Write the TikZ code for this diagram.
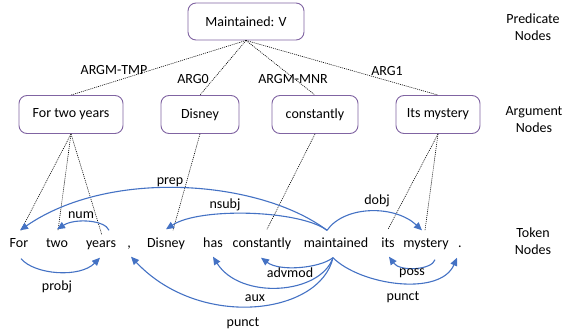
\documentclass[tikz,border=0pt]{standalone}
\usepackage{fontspec}
\setmainfont{Carlito}
\usetikzlibrary{arrows.meta}
\definecolor{depblue}{HTML}{4472C4}
\definecolor{boxpurple}{HTML}{8064A2}
\begin{document}
\begin{tikzpicture}[x=1pt,y=-1pt,font=\fontsize{14}{17}\selectfont,
  argbox/.style={draw=boxpurple,line width=0.9pt,rounded corners=8pt,inner sep=0pt,minimum height=38pt},
  tok/.style={inner xsep=1pt,inner ysep=7pt,text height=10pt,text depth=3pt},
  dep/.style={draw=depblue,line width=1.1pt,-{Triangle[length=8pt,width=7pt]}},
  dotl/.style={line width=0.6pt,dash pattern=on 1pt off 1pt},
  lab/.style={inner sep=1pt},
  side/.style={align=center,inner sep=0pt}]
\useasboundingbox (0,0) rectangle (571,334);

% predicate and arguments
\node[argbox,minimum width=116pt,minimum height=37pt] (pred) at (246,21.5) {Maintained: V};
\node[argbox,minimum width=104pt] (a1) at (71,114.5) {For two years};
\node[argbox,minimum width=78pt] (a2) at (200,114.5) {Disney};
\node[argbox,minimum width=86pt] (a3) at (315,114.5) {constantly};
\node[argbox,minimum width=84pt] (a4) at (438,114.5) {Its mystery};

% side labels
\node[side] (sp) at (533,27) {Predicate\\Nodes};
\node[side] (sa) at (534,120) {Argument\\Nodes};
\node[side] (st) at (533,241) {Token\\Nodes};

% tokens
\node[tok] (for) at (19,244) {For};
\node[tok] (tw) at (57,244) {two};
\node[tok] (yr) at (101,244) {years};
\node[tok] (cm) at (129,244) {,};
\node[tok] (ds) at (166,244) {Disney};
\node[tok] (hs) at (213,244) {has};
\node[tok] (cn) at (262,244) {constantly};
\node[tok] (mt) at (336,244) {maintained};
\node[tok] (its) at (388,244) {its};
\node[tok] (my) at (426,244) {mystery};
\node[tok] (pd) at (460,244) {.};

% SRL edges
\draw[dotl] (pred.south) -- (a1.north);
\draw[dotl] (pred.south) -- (a2.north);
\draw[dotl] (pred.south) -- (a3.north);
\draw[dotl] (pred.south) -- (a4.north);
\node[lab] (l1) at (114,70) {ARGM-TMP};
\node[lab] (l2) at (193,79) {ARG0};
\node[lab] (l3) at (293,79) {ARGM-MNR};
\node[lab] (l4) at (387,71) {ARG1};

% argument to tokens
\draw[dotl] (a1.south) -- ([xshift=2pt]for.north);
\draw[dotl] (a1.south) -- ([xshift=1pt]tw.north);
\draw[dotl] (a1.south) -- ([xshift=1pt,yshift=-5pt]yr.north);
\draw[dotl] (a2.south) -- ([xshift=7pt]ds.north);
\draw[dotl] (a3.south) -- ([xshift=5pt,yshift=1pt]cn.north);
\draw[dotl] (a4.south) -- ([yshift=1pt]its.north);
\draw[dotl] (a4.south) -- ([xshift=-1pt]my.north);

% dependency arcs above
\draw[dep] ([xshift=-9pt]mt.north) .. controls (260,180) and (110,168) .. ([xshift=1pt]for.north);
\draw[dep] ([xshift=-9pt]mt.north) .. controls (300,210) and (200,207) .. ([yshift=1pt]ds.north);
\draw[dep] ([xshift=8pt]yr.north) .. controls (105,220) and (75,218) .. ([yshift=1pt]tw.north);
\draw[dep] ([xshift=-9pt]mt.north) .. controls (345,205) and (395,205) .. ([xshift=-4pt]my.north);
\node[lab] (lprep) at (170,182) {prep};
\node[lab] (lnsubj) at (225,205) {nsubj};
\node[lab] (lnum) at (81,215) {num};
\node[lab] (ldobj) at (377,201) {dobj};

% dependency arcs below
\draw[dep] ([xshift=2pt,yshift=-1pt]for.south) .. controls (35,275) and (80,278) .. ([xshift=-1pt]yr.south);
\draw[dep] ([xshift=-3pt]mt.south) .. controls (320,268) and (280,272) .. ([xshift=-1pt]cn.south);
\draw[dep] ([xshift=-3pt]mt.south) .. controls (320,295) and (240,300) .. ([yshift=1pt]hs.south);
\draw[dep] ([xshift=-3pt]mt.south) .. controls (320,315) and (200,330) .. ([xshift=2pt,yshift=1pt]cm.south);
\draw[dep] ([xshift=9pt,yshift=-2pt]my.south) .. controls (432,270) and (400,272) .. ([xshift=1pt,yshift=1pt]its.south);
\draw[dep] ([xshift=-3pt]mt.south) .. controls (360,285) and (440,297) .. ([xshift=-3pt]pd.south);
\node[lab] (lprobj) at (57,287) {probj};
\node[lab] (ladv) at (290,273) {advmod};
\node[lab] (laux) at (255,298) {aux};
\node[lab] (lpl) at (243,323) {punct};
\node[lab] (lposs) at (412,273) {poss};
\node[lab] (lpr) at (403,297) {punct};
\end{tikzpicture}
\end{document}
